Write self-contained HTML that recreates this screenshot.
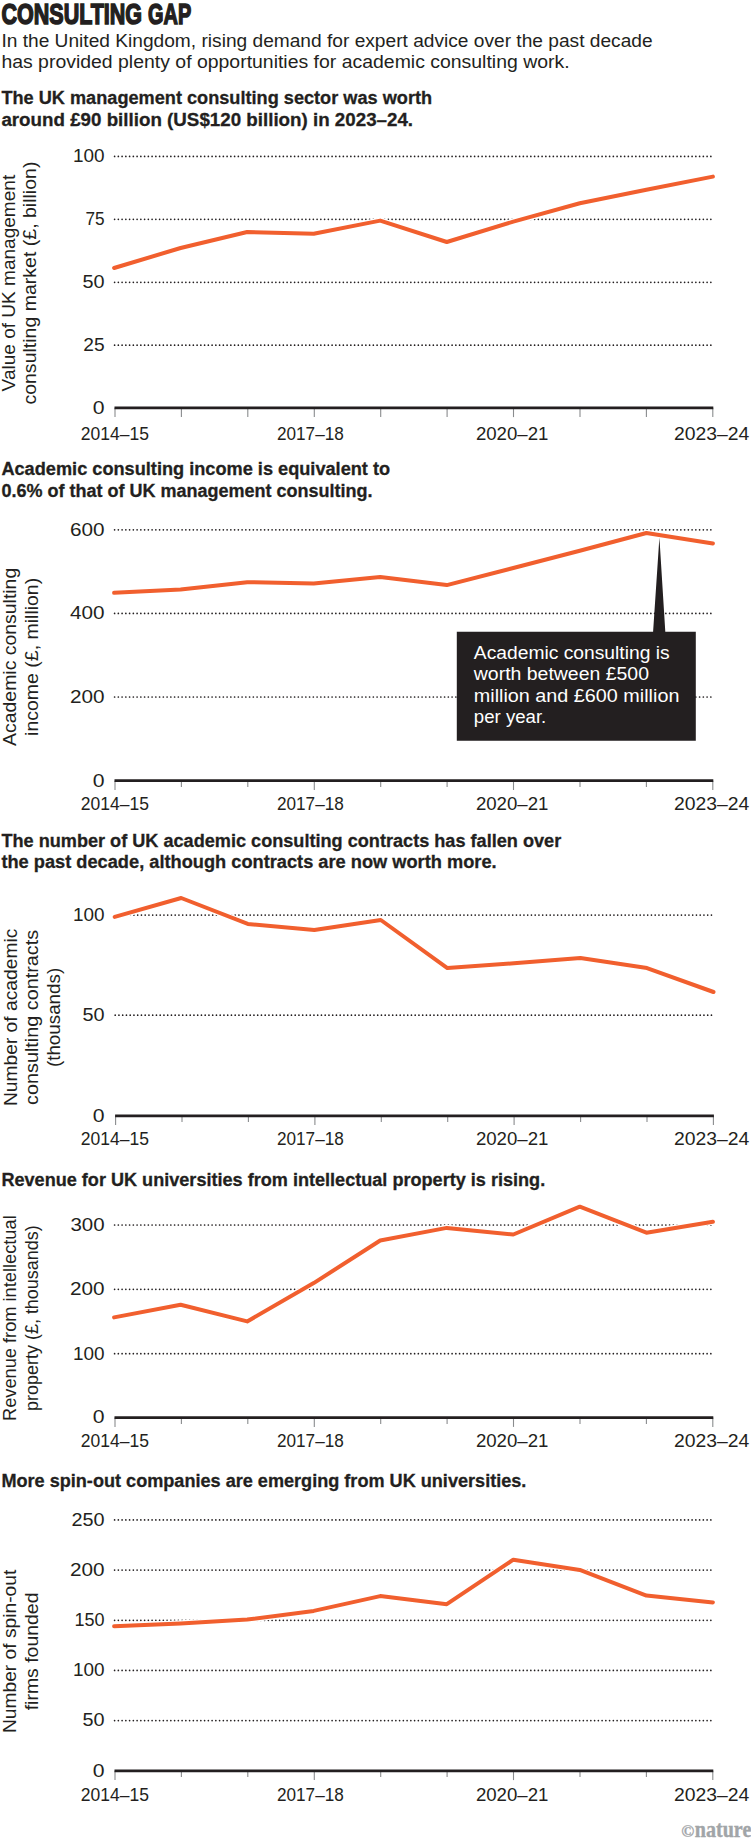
<!DOCTYPE html>
<html lang="en"><head><meta charset="utf-8"><title>Consulting gap</title>
<style>
html,body{margin:0;padding:0;background:#fff}
svg{display:block}
svg{font-family:"Liberation Sans","DejaVu Sans",sans-serif;font-size:17.5px;fill:#231f20}
.g{stroke:#231f20;stroke-width:1.7;stroke-dasharray:0 3.75;stroke-linecap:round;fill:none}
.t{stroke:#8a8c8e;stroke-width:1.1;fill:none}
.a{stroke:#231f20;stroke-width:2.8;fill:none}
.h{stroke:#fff;stroke-width:6.4;fill:none;stroke-linejoin:round;stroke-linecap:butt}
.l{stroke:#f15f2e;stroke-width:4;fill:none;stroke-linejoin:round;stroke-linecap:round}
</style></head><body>
<svg width="751" height="1841" viewBox="0 0 751 1841">
<rect width="751" height="1841" fill="#fff"/>
<text y="24.2" font-size="30.2" font-weight="bold" stroke="#231f20" stroke-width="1.6" stroke-linejoin="miter"><tspan x="1.5" textLength="140.6" lengthAdjust="spacingAndGlyphs">CONSULTING</tspan> <tspan x="148.1" textLength="43.1" lengthAdjust="spacingAndGlyphs">GAP</tspan></text>
<text x="1.4" y="46.8" textLength="651.2" lengthAdjust="spacingAndGlyphs">In the United Kingdom, rising demand for expert advice over the past decade</text>
<text x="1.4" y="68.4" textLength="568.2" lengthAdjust="spacingAndGlyphs">has provided plenty of opportunities for academic consulting work.</text>
<text x="1.4" y="104.4" textLength="430.7" lengthAdjust="spacingAndGlyphs" font-weight="bold" stroke="#231f20" stroke-width="0.28">The UK management consulting sector was worth</text>
<text x="1.4" y="126.0" textLength="411.7" lengthAdjust="spacingAndGlyphs" font-weight="bold" stroke="#231f20" stroke-width="0.28">around £90 billion (US$120 billion) in 2023–24.</text>
<text x="104.6" y="162.2" text-anchor="end" textLength="31.6" lengthAdjust="spacingAndGlyphs">100</text>
<text x="104.6" y="225.1" text-anchor="end" textLength="19.1" lengthAdjust="spacingAndGlyphs">75</text>
<text x="104.6" y="288.1" text-anchor="end" textLength="22.1" lengthAdjust="spacingAndGlyphs">50</text>
<text x="104.6" y="351.0" text-anchor="end" textLength="21.3" lengthAdjust="spacingAndGlyphs">25</text>
<text x="104.6" y="413.6" text-anchor="end" textLength="11.8" lengthAdjust="spacingAndGlyphs">0</text>
<text x="80.8" y="440.0" textLength="68.2" lengthAdjust="spacingAndGlyphs">2014–15</text>
<text x="277.0" y="440.0" textLength="66.8" lengthAdjust="spacingAndGlyphs">2017–18</text>
<text x="475.9" y="440.0" textLength="72.5" lengthAdjust="spacingAndGlyphs">2020–21</text>
<text x="673.9" y="440.0" textLength="75.3" lengthAdjust="spacingAndGlyphs">2023–24</text>
<g>
<line x1="114.6" y1="156.4" x2="711.3" y2="156.4" class="g"/>
<line x1="114.6" y1="219.3" x2="711.3" y2="219.3" class="g"/>
<line x1="114.6" y1="282.3" x2="711.3" y2="282.3" class="g"/>
<line x1="114.6" y1="345.2" x2="711.3" y2="345.2" class="g"/>
<line x1="115.0" y1="407.8" x2="115.0" y2="417.1" class="t"/>
<line x1="181.4" y1="407.8" x2="181.4" y2="417.1" class="t"/>
<line x1="247.8" y1="407.8" x2="247.8" y2="417.1" class="t"/>
<line x1="314.3" y1="407.8" x2="314.3" y2="417.1" class="t"/>
<line x1="380.7" y1="407.8" x2="380.7" y2="417.1" class="t"/>
<line x1="447.1" y1="407.8" x2="447.1" y2="417.1" class="t"/>
<line x1="513.5" y1="407.8" x2="513.5" y2="417.1" class="t"/>
<line x1="580.0" y1="407.8" x2="580.0" y2="417.1" class="t"/>
<line x1="646.4" y1="407.8" x2="646.4" y2="417.1" class="t"/>
<line x1="712.8" y1="407.8" x2="712.8" y2="417.1" class="t"/>
<line x1="114.5" y1="407.8" x2="713.3" y2="407.8" class="a"/>
<path d="M114.1,268.0 L180.6,248.0 L247.2,232.0 L313.7,233.8 L380.2,220.6 L446.8,242.0 L513.3,221.6 L579.8,203.3 L646.4,189.7 L712.9,176.6" class="h"/>
<path d="M114.1,268.0 L180.6,248.0 L247.2,232.0 L313.7,233.8 L380.2,220.6 L446.8,242.0 L513.3,221.6 L579.8,203.3 L646.4,189.7 L712.9,176.6" class="l"/>
</g>
<text transform="translate(14.7,391.4) rotate(-90)" textLength="216.6" lengthAdjust="spacingAndGlyphs">Value of UK management</text>
<text transform="translate(36.0,404.6) rotate(-90)" textLength="243.0" lengthAdjust="spacingAndGlyphs">consulting market (£, billion)</text>
<text x="1.4" y="475.3" textLength="388.7" lengthAdjust="spacingAndGlyphs" font-weight="bold" stroke="#231f20" stroke-width="0.28">Academic consulting income is equivalent to</text>
<text x="1.4" y="496.8" textLength="371.2" lengthAdjust="spacingAndGlyphs" font-weight="bold" stroke="#231f20" stroke-width="0.28">0.6% of that of UK management consulting.</text>
<text x="104.6" y="535.6" text-anchor="end" textLength="34.6" lengthAdjust="spacingAndGlyphs">600</text>
<text x="104.6" y="619.2" text-anchor="end" textLength="34.6" lengthAdjust="spacingAndGlyphs">400</text>
<text x="104.6" y="702.8" text-anchor="end" textLength="34.6" lengthAdjust="spacingAndGlyphs">200</text>
<text x="104.6" y="786.5" text-anchor="end" textLength="11.8" lengthAdjust="spacingAndGlyphs">0</text>
<text x="80.8" y="810.3" textLength="68.2" lengthAdjust="spacingAndGlyphs">2014–15</text>
<text x="277.0" y="810.3" textLength="66.8" lengthAdjust="spacingAndGlyphs">2017–18</text>
<text x="475.9" y="810.3" textLength="72.5" lengthAdjust="spacingAndGlyphs">2020–21</text>
<text x="673.9" y="810.3" textLength="75.3" lengthAdjust="spacingAndGlyphs">2023–24</text>
<g>
<line x1="114.6" y1="529.8" x2="711.3" y2="529.8" class="g"/>
<line x1="114.6" y1="613.4" x2="711.3" y2="613.4" class="g"/>
<line x1="114.6" y1="697.0" x2="711.3" y2="697.0" class="g"/>
<line x1="115.0" y1="780.7" x2="115.0" y2="790.0" class="t"/>
<line x1="181.4" y1="780.7" x2="181.4" y2="787.0" class="t"/>
<line x1="247.8" y1="780.7" x2="247.8" y2="787.0" class="t"/>
<line x1="314.3" y1="780.7" x2="314.3" y2="790.0" class="t"/>
<line x1="380.7" y1="780.7" x2="380.7" y2="787.0" class="t"/>
<line x1="447.1" y1="780.7" x2="447.1" y2="787.0" class="t"/>
<line x1="513.5" y1="780.7" x2="513.5" y2="790.0" class="t"/>
<line x1="580.0" y1="780.7" x2="580.0" y2="787.0" class="t"/>
<line x1="646.4" y1="780.7" x2="646.4" y2="787.0" class="t"/>
<line x1="712.8" y1="780.7" x2="712.8" y2="790.0" class="t"/>
<line x1="114.5" y1="780.7" x2="713.3" y2="780.7" class="a"/>
<path d="M114.1,592.8 L180.6,589.5 L247.2,582.2 L313.7,583.5 L380.2,577.1 L446.8,585.1 L513.3,568.0 L579.8,550.7 L646.4,533.0 L712.9,543.4" class="h"/>
<path d="M114.1,592.8 L180.6,589.5 L247.2,582.2 L313.7,583.5 L380.2,577.1 L446.8,585.1 L513.3,568.0 L579.8,550.7 L646.4,533.0 L712.9,543.4" class="l"/>
</g>
<text transform="translate(16.2,745.9) rotate(-90)" textLength="178.1" lengthAdjust="spacingAndGlyphs">Academic consulting</text>
<text transform="translate(37.5,735.9) rotate(-90)" textLength="158.1" lengthAdjust="spacingAndGlyphs">income (£, million)</text>
<path d="M456.8,631.7 H653.1 L659.4,537.6 L665.3,631.7 H695.8 V740.8 H456.8 Z" fill="#231f20"/>
<text x="473.8" y="658.9" textLength="195.8" lengthAdjust="spacingAndGlyphs" fill="#fff">Academic consulting is</text>
<text x="473.8" y="680.4" textLength="175.2" lengthAdjust="spacingAndGlyphs" fill="#fff">worth between £500</text>
<text x="473.8" y="701.9" textLength="205.6" lengthAdjust="spacingAndGlyphs" fill="#fff">million and £600 million</text>
<text x="473.8" y="723.4" textLength="72.5" lengthAdjust="spacingAndGlyphs" fill="#fff">per year.</text>
<text x="1.4" y="846.8" textLength="559.8" lengthAdjust="spacingAndGlyphs" font-weight="bold" stroke="#231f20" stroke-width="0.28">The number of UK academic consulting contracts has fallen over</text>
<text x="1.4" y="868.4" textLength="495.2" lengthAdjust="spacingAndGlyphs" font-weight="bold" stroke="#231f20" stroke-width="0.28">the past decade, although contracts are now worth more.</text>
<text x="104.6" y="920.9" text-anchor="end" textLength="31.6" lengthAdjust="spacingAndGlyphs">100</text>
<text x="104.6" y="1021.0" text-anchor="end" textLength="22.1" lengthAdjust="spacingAndGlyphs">50</text>
<text x="104.6" y="1121.6" text-anchor="end" textLength="11.8" lengthAdjust="spacingAndGlyphs">0</text>
<text x="80.8" y="1145.4" textLength="68.2" lengthAdjust="spacingAndGlyphs">2014–15</text>
<text x="277.0" y="1145.4" textLength="66.8" lengthAdjust="spacingAndGlyphs">2017–18</text>
<text x="475.9" y="1145.4" textLength="72.5" lengthAdjust="spacingAndGlyphs">2020–21</text>
<text x="673.9" y="1145.4" textLength="75.3" lengthAdjust="spacingAndGlyphs">2023–24</text>
<g transform="translate(0.6,0)">
<line x1="114.6" y1="915.1" x2="711.3" y2="915.1" class="g"/>
<line x1="114.6" y1="1015.2" x2="711.3" y2="1015.2" class="g"/>
<line x1="115.0" y1="1115.8" x2="115.0" y2="1125.1" class="t"/>
<line x1="181.4" y1="1115.8" x2="181.4" y2="1122.1" class="t"/>
<line x1="247.8" y1="1115.8" x2="247.8" y2="1122.1" class="t"/>
<line x1="314.3" y1="1115.8" x2="314.3" y2="1125.1" class="t"/>
<line x1="380.7" y1="1115.8" x2="380.7" y2="1122.1" class="t"/>
<line x1="447.1" y1="1115.8" x2="447.1" y2="1122.1" class="t"/>
<line x1="513.5" y1="1115.8" x2="513.5" y2="1125.1" class="t"/>
<line x1="580.0" y1="1115.8" x2="580.0" y2="1122.1" class="t"/>
<line x1="646.4" y1="1115.8" x2="646.4" y2="1122.1" class="t"/>
<line x1="712.8" y1="1115.8" x2="712.8" y2="1125.1" class="t"/>
<line x1="114.5" y1="1115.8" x2="713.3" y2="1115.8" class="a"/>
<path d="M114.1,916.9 L180.6,898.0 L247.2,923.9 L313.7,930.1 L380.2,920.0 L446.8,968.1 L513.3,963.3 L579.8,958.0 L646.4,968.1 L712.9,992.0" class="h"/>
<path d="M114.1,916.9 L180.6,898.0 L247.2,923.9 L313.7,930.1 L380.2,920.0 L446.8,968.1 L513.3,963.3 L579.8,958.0 L646.4,968.1 L712.9,992.0" class="l"/>
</g>
<text transform="translate(16.5,1106.1) rotate(-90)" textLength="177.4" lengthAdjust="spacingAndGlyphs">Number of academic</text>
<text transform="translate(38.1,1104.9) rotate(-90)" textLength="175.0" lengthAdjust="spacingAndGlyphs">consulting contracts</text>
<text transform="translate(59.8,1067.1) rotate(-90)" textLength="99.3" lengthAdjust="spacingAndGlyphs">(thousands)</text>
<text x="1.4" y="1185.8" textLength="543.8" lengthAdjust="spacingAndGlyphs" font-weight="bold" stroke="#231f20" stroke-width="0.28">Revenue for UK universities from intellectual property is rising.</text>
<text x="104.6" y="1230.8" text-anchor="end" textLength="34.2" lengthAdjust="spacingAndGlyphs">300</text>
<text x="104.6" y="1295.1" text-anchor="end" textLength="34.6" lengthAdjust="spacingAndGlyphs">200</text>
<text x="104.6" y="1359.5" text-anchor="end" textLength="31.6" lengthAdjust="spacingAndGlyphs">100</text>
<text x="104.6" y="1423.4" text-anchor="end" textLength="11.8" lengthAdjust="spacingAndGlyphs">0</text>
<text x="80.8" y="1446.8" textLength="68.2" lengthAdjust="spacingAndGlyphs">2014–15</text>
<text x="277.0" y="1446.8" textLength="66.8" lengthAdjust="spacingAndGlyphs">2017–18</text>
<text x="475.9" y="1446.8" textLength="72.5" lengthAdjust="spacingAndGlyphs">2020–21</text>
<text x="673.9" y="1446.8" textLength="75.3" lengthAdjust="spacingAndGlyphs">2023–24</text>
<g>
<line x1="114.6" y1="1225.0" x2="711.3" y2="1225.0" class="g"/>
<line x1="114.6" y1="1289.3" x2="711.3" y2="1289.3" class="g"/>
<line x1="114.6" y1="1353.7" x2="711.3" y2="1353.7" class="g"/>
<line x1="115.0" y1="1417.6" x2="115.0" y2="1426.9" class="t"/>
<line x1="181.4" y1="1417.6" x2="181.4" y2="1423.9" class="t"/>
<line x1="247.8" y1="1417.6" x2="247.8" y2="1423.9" class="t"/>
<line x1="314.3" y1="1417.6" x2="314.3" y2="1426.9" class="t"/>
<line x1="380.7" y1="1417.6" x2="380.7" y2="1423.9" class="t"/>
<line x1="447.1" y1="1417.6" x2="447.1" y2="1423.9" class="t"/>
<line x1="513.5" y1="1417.6" x2="513.5" y2="1426.9" class="t"/>
<line x1="580.0" y1="1417.6" x2="580.0" y2="1423.9" class="t"/>
<line x1="646.4" y1="1417.6" x2="646.4" y2="1423.9" class="t"/>
<line x1="712.8" y1="1417.6" x2="712.8" y2="1426.9" class="t"/>
<line x1="114.5" y1="1417.6" x2="713.3" y2="1417.6" class="a"/>
<path d="M114.1,1317.4 L180.6,1304.7 L247.2,1321.4 L313.7,1283.1 L380.2,1240.5 L446.8,1227.9 L513.3,1234.5 L579.8,1206.7 L646.4,1232.7 L712.9,1221.7" class="h"/>
<path d="M114.1,1317.4 L180.6,1304.7 L247.2,1321.4 L313.7,1283.1 L380.2,1240.5 L446.8,1227.9 L513.3,1234.5 L579.8,1206.7 L646.4,1232.7 L712.9,1221.7" class="l"/>
</g>
<text transform="translate(15.9,1421.0) rotate(-90)" textLength="205.7" lengthAdjust="spacingAndGlyphs">Revenue from intellectual</text>
<text transform="translate(37.8,1410.9) rotate(-90)" textLength="185.6" lengthAdjust="spacingAndGlyphs">property (£, thousands)</text>
<text x="1.4" y="1486.6" textLength="525.0" lengthAdjust="spacingAndGlyphs" font-weight="bold" stroke="#231f20" stroke-width="0.28">More spin-out companies are emerging from UK universities.</text>
<text x="104.6" y="1525.7" text-anchor="end" textLength="33.1" lengthAdjust="spacingAndGlyphs">250</text>
<text x="104.6" y="1575.9" text-anchor="end" textLength="34.6" lengthAdjust="spacingAndGlyphs">200</text>
<text x="104.6" y="1626.1" text-anchor="end" textLength="30.1" lengthAdjust="spacingAndGlyphs">150</text>
<text x="104.6" y="1676.2" text-anchor="end" textLength="31.6" lengthAdjust="spacingAndGlyphs">100</text>
<text x="104.6" y="1726.4" text-anchor="end" textLength="22.1" lengthAdjust="spacingAndGlyphs">50</text>
<text x="104.6" y="1776.6" text-anchor="end" textLength="11.8" lengthAdjust="spacingAndGlyphs">0</text>
<text x="80.8" y="1800.6" textLength="68.2" lengthAdjust="spacingAndGlyphs">2014–15</text>
<text x="277.0" y="1800.6" textLength="66.8" lengthAdjust="spacingAndGlyphs">2017–18</text>
<text x="475.9" y="1800.6" textLength="72.5" lengthAdjust="spacingAndGlyphs">2020–21</text>
<text x="673.9" y="1800.6" textLength="75.3" lengthAdjust="spacingAndGlyphs">2023–24</text>
<g>
<line x1="114.6" y1="1519.9" x2="711.3" y2="1519.9" class="g"/>
<line x1="114.6" y1="1570.1" x2="711.3" y2="1570.1" class="g"/>
<line x1="114.6" y1="1620.3" x2="711.3" y2="1620.3" class="g"/>
<line x1="114.6" y1="1670.4" x2="711.3" y2="1670.4" class="g"/>
<line x1="114.6" y1="1720.6" x2="711.3" y2="1720.6" class="g"/>
<line x1="115.0" y1="1770.8" x2="115.0" y2="1780.1" class="t"/>
<line x1="181.4" y1="1770.8" x2="181.4" y2="1777.1" class="t"/>
<line x1="247.8" y1="1770.8" x2="247.8" y2="1777.1" class="t"/>
<line x1="314.3" y1="1770.8" x2="314.3" y2="1780.1" class="t"/>
<line x1="380.7" y1="1770.8" x2="380.7" y2="1777.1" class="t"/>
<line x1="447.1" y1="1770.8" x2="447.1" y2="1777.1" class="t"/>
<line x1="513.5" y1="1770.8" x2="513.5" y2="1780.1" class="t"/>
<line x1="580.0" y1="1770.8" x2="580.0" y2="1777.1" class="t"/>
<line x1="646.4" y1="1770.8" x2="646.4" y2="1777.1" class="t"/>
<line x1="712.8" y1="1770.8" x2="712.8" y2="1780.1" class="t"/>
<line x1="114.5" y1="1770.8" x2="713.3" y2="1770.8" class="a"/>
<path d="M114.1,1626.2 L180.6,1623.4 L247.2,1619.6 L313.7,1610.9 L380.2,1596.1 L446.8,1604.2 L513.3,1559.7 L579.8,1569.9 L646.4,1595.6 L712.9,1602.4" class="h"/>
<path d="M114.1,1626.2 L180.6,1623.4 L247.2,1619.6 L313.7,1610.9 L380.2,1596.1 L446.8,1604.2 L513.3,1559.7 L579.8,1569.9 L646.4,1595.6 L712.9,1602.4" class="l"/>
</g>
<text transform="translate(15.9,1733.1) rotate(-90)" textLength="163.4" lengthAdjust="spacingAndGlyphs">Number of spin-out</text>
<text transform="translate(37.8,1710.3) rotate(-90)" textLength="117.8" lengthAdjust="spacingAndGlyphs">firms founded</text>
<g font-family="'Liberation Serif','DejaVu Serif',serif" fill="#a1a5a8" font-weight="bold"><text x="681.3" y="1836.6" font-size="16.5" textLength="13" lengthAdjust="spacingAndGlyphs" stroke="#a1a5a8" stroke-width="0.3">©</text><text x="694.8" y="1836.6" font-size="23.5" textLength="56.5" lengthAdjust="spacingAndGlyphs" stroke="#a1a5a8" stroke-width="0.4">nature</text></g>
</svg>
</body></html>
